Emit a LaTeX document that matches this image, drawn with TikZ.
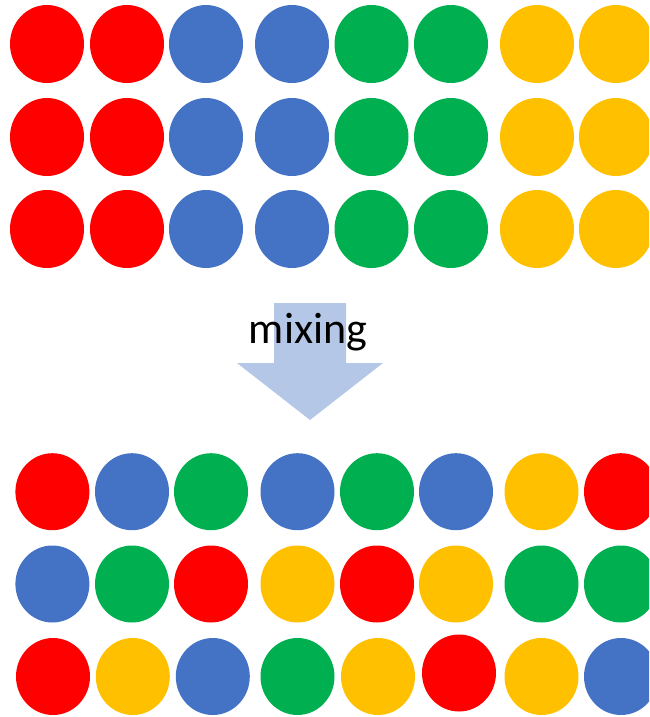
\documentclass[tikz,border=0pt]{standalone}
\usepackage{fontspec}
\setmainfont{Carlito}
\definecolor{cred}{HTML}{FF0000}
\definecolor{cblue}{HTML}{4472C4}
\definecolor{cgreen}{HTML}{00B050}
\definecolor{cyellow}{HTML}{FFC000}
\definecolor{carrow}{HTML}{B4C7E7}
\begin{document}
\begin{tikzpicture}[x=1pt,y=-1pt,
  dot/.style={fill=#1}]
\useasboundingbox (0,0) rectangle (649,717);
\clip (0,0) rectangle (649,717);
% top grid
\foreach \y in {44,137,229}{
  \foreach \x/\c in {47/cred,127/cred,206/cblue,292/cblue,371.5/cgreen,451/cgreen,537/cyellow,616/cyellow}{
    \fill[dot=\c] (\x,\y) ellipse [x radius=37, y radius=39];
  }
}
% arrow
\fill[carrow] (274,303) -- (346,303) -- (346,363) -- (383,363) -- (310,420) -- (237,363) -- (274,363) -- cycle;
\node[anchor=base, inner sep=0pt, font=\fontsize{44}{50}\selectfont] (mix) at (308,343) {mixing};
% bottom grid
\foreach \x/\c in {52.4/cred,132/cblue,211/cgreen,297.5/cblue,377/cgreen,456/cblue,541.5/cyellow,621/cred}{
  \fill[dot=\c] (\x,491.7) ellipse [x radius=37, y radius=38.5];
}
\foreach \x/\c in {52.4/cblue,132/cgreen,211/cred,297.5/cyellow,377/cred,456/cyellow,541.5/cgreen,621/cgreen}{
  \fill[dot=\c] (\x,584) ellipse [x radius=37, y radius=38.5];
}
\foreach \x/\y/\c in {53/676.5/cred,132.8/676.5/cyellow,212.8/676.5/cblue,297.5/676.5/cgreen,378/676.5/cyellow,459/673/cred,541.5/676.5/cyellow,621/676.5/cblue}{
  \fill[dot=\c] (\x,\y) ellipse [x radius=37, y radius=38.5];
}
\end{tikzpicture}
\end{document}
